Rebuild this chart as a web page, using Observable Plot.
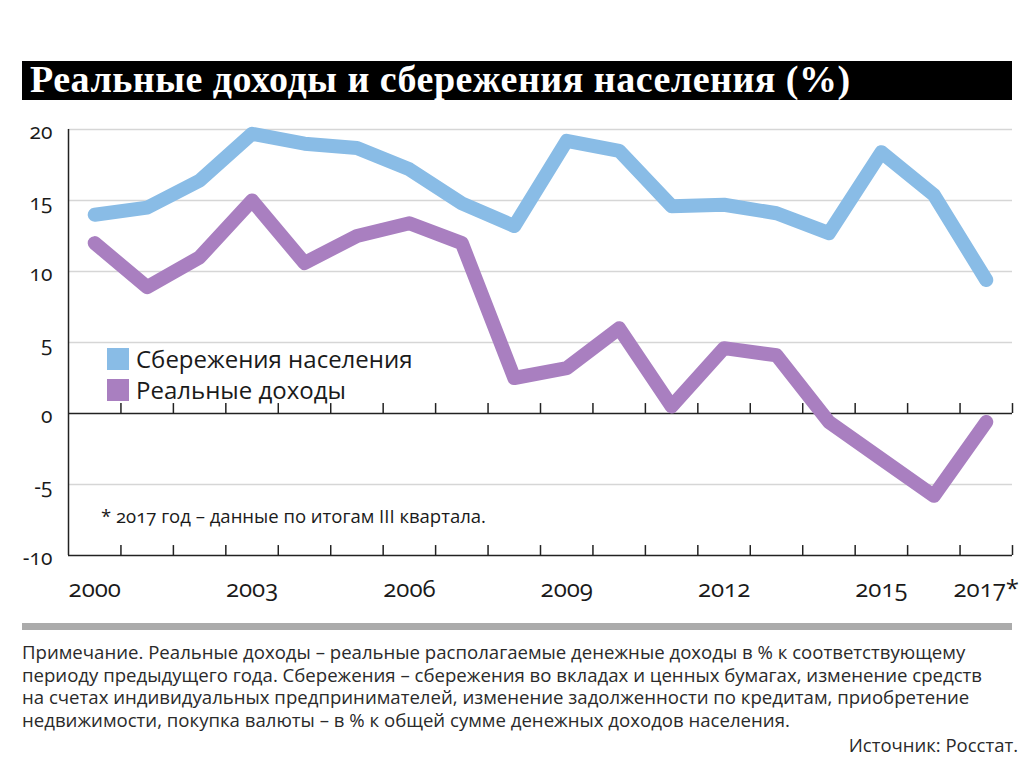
<!DOCTYPE html>
<html>
<head>
<meta charset="utf-8">
<script src="https://cdn.jsdelivr.net/npm/d3@7"></script>
<script src="https://cdn.jsdelivr.net/npm/@observablehq/plot@0.6"></script>
<style>
  html, body { margin: 0; padding: 0; background: #fff; }
  #page { position: relative; width: 1024px; height: 767px; overflow: hidden; font-family: "Open Sans", sans-serif; }
  #titlebar { position: absolute; left: 22px; top: 61px; width: 990px; height: 39px; background: #000; }
  #title { position: absolute; left: 30px; top: 58px; font-family: "Liberation Serif", serif; font-weight: bold; font-size: 38px; letter-spacing: 0.5px; line-height: 42px; color: #fff; white-space: nowrap; }
  #chart { position: absolute; left: 0; top: 110px; }
  #chart svg text { font-variant-numeric: oldstyle-nums; }
  #legend { position: absolute; left: 107px; top: 343px; font-size: 24px; color: #1a1a1a; }
  .row { display: flex; align-items: center; height: 31px; white-space: nowrap; }
  .sw { width: 22px; height: 22px; margin-right: 7px; flex: none; }
  #foot { position: absolute; left: 101px; top: 503px; font-size: 18.5px; color: #1a1a1a; white-space: nowrap; font-variant-numeric: oldstyle-nums; }
  #rule { position: absolute; left: 22px; top: 623px; width: 990px; height: 7px; background: #ababab; }
  #note { position: absolute; left: 22px; top: 641px; font-size: 18.6px; line-height: 22.7px; color: #2a2a2a; white-space: nowrap; }
  #source { position: absolute; right: 6px; top: 732px; font-size: 18.5px; color: #2a2a2a; white-space: nowrap; }
</style>
</head>
<body>
<div id="page">
  <div id="titlebar"></div>
  <div id="title">Реальные доходы и сбережения населения (%)</div>
  <div id="chart"></div>
  <div id="legend"></div>
  <div id="foot">* 2017 год – данные по итогам III квартала.</div>
  <div id="rule"></div>
  <div id="note">Примечание. Реальные доходы – реальные располагаемые денежные доходы в % к соответствующему<br>периоду предыдущего года. Сбережения – сбережения во вкладах и ценных бумагах, изменение средств<br>на счетах индивидуальных предпринимателей, изменение задолженности по кредитам, приобретение<br>недвижимости, покупка валюты – в % к общей сумме денежных доходов населения.</div>
  <div id="source">Источник: Росстат.</div>
</div>
<script>
const years = [2000, 2001, 2002, 2003, 2004, 2005, 2006, 2007, 2008, 2009, 2010, 2011, 2012, 2013, 2014, 2015, 2016, 2017];
const savings = [14.0, 14.5, 16.4, 19.7, 19.0, 18.7, 17.2, 14.8, 13.2, 19.2, 18.5, 14.6, 14.7, 14.1, 12.7, 18.4, 15.4, 9.4];
const income = [12.0, 8.9, 11.0, 15.0, 10.6, 12.5, 13.4, 12.0, 2.5, 3.2, 6.0, 0.5, 4.6, 4.1, -0.6, -3.2, -5.8, -0.6];
const seriesNames = ["Сбережения населения", "Реальные доходы"];
const seriesColors = ["#89bce6", "#a97fc0"];
const yTicks = [20, 15, 10, 5, 0, -5, -10];
const xTickYears = [2000, 2003, 2006, 2009, 2012, 2015, 2017];
const xTickLabels = ["2000", "2003", "2006", "2009", "2012", "2015", "2017*"];

const savingsData = years.map((year, i) => ({year, value: savings[i]}));
const incomeData = years.map((year, i) => ({year, value: income[i]}));
const xMin = years[0] - 0.5, xMax = years[years.length - 1] + 0.5;
const boundaries = years.map(y => y + 0.5);
const yMin = d3.min(yTicks), yMax = d3.max(yTicks);
const gridTicks = yTicks.filter(t => t !== 0 && t !== yMin);
const xLabelMap = new Map(xTickYears.map((y, i) => [y, xTickLabels[i]]));

const chart = Plot.plot({
  width: 1024,
  height: 500,
  marginLeft: 68,
  marginRight: 12,
  marginTop: 19,
  marginBottom: 55,
  style: {fontFamily: "'Open Sans', sans-serif", fontSize: "21px", color: "#1a1a1a", background: "transparent", overflow: "visible"},
  x: {domain: [xMin, xMax], axis: null},
  y: {domain: [yMin, yMax], axis: null},
  marks: [
    Plot.ruleY(gridTicks, {stroke: "#d6d6d6", strokeWidth: 1.5}),
    Plot.ruleY([0, yMin], {stroke: "#222", strokeWidth: 1.5}),
    Plot.ruleX([xMin], {y1: yMin, y2: yMax, stroke: "#222", strokeWidth: 1.5}),
    Plot.ruleX(boundaries, {y1: 0, y2: 0.7, stroke: "#222", strokeWidth: 1.5}),
    Plot.ruleX(boundaries, {y1: yMin, y2: yMin + 0.7, stroke: "#222", strokeWidth: 1.5}),
    Plot.line(savingsData, {x: "year", y: "value", stroke: seriesColors[0], strokeWidth: 14, strokeLinejoin: "round", strokeLinecap: "round"}),
    Plot.line(incomeData, {x: "year", y: "value", stroke: seriesColors[1], strokeWidth: 14, strokeLinejoin: "round", strokeLinecap: "round"}),
    Plot.axisY(yTicks, {tickSize: 0, tickPadding: 16, tickFormat: d => String(d), fontSize: 21, dy: 3, label: null}),
    Plot.axisX(xTickYears, {tickSize: 0, tickPadding: 24, tickFormat: d => xLabelMap.get(d), fontSize: 24, label: null})
  ]
});
document.getElementById("chart").appendChild(chart);

const legend = document.getElementById("legend");
seriesNames.forEach((name, i) => {
  const row = document.createElement("div");
  row.className = "row";
  const sw = document.createElement("span");
  sw.className = "sw";
  sw.style.background = seriesColors[i];
  const label = document.createElement("span");
  label.textContent = name;
  row.appendChild(sw);
  row.appendChild(label);
  legend.appendChild(row);
});
</script>
</body>
</html>
